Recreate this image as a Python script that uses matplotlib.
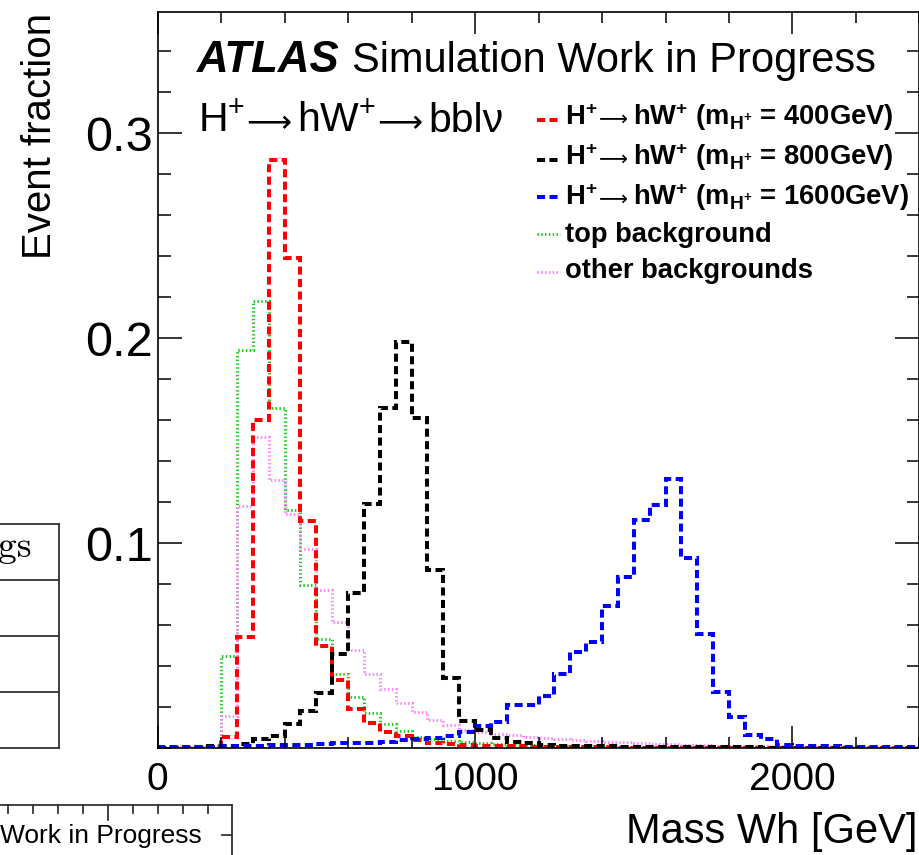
#
# Reconstructed invariant mass of the Wh system for charged Higgs signals and backgrounds
#

import numpy as np
import matplotlib
matplotlib.use('Agg')
import matplotlib.pyplot as plt
from matplotlib.lines import Line2D
from matplotlib.ticker import MultipleLocator

plt.rcParams['font.family'] = ['Liberation Sans', 'DejaVu Sans']
plt.rcParams['mathtext.fontset'] = 'custom'
plt.rcParams['mathtext.rm'] = 'Liberation Sans'
plt.rcParams['mathtext.it'] = 'Liberation Sans:italic'
plt.rcParams['mathtext.bf'] = 'Liberation Sans:bold'

# Data: normalised event fractions in 50 GeV bins, 0 - 2400 GeV
edges = np.arange(0, 2401, 50)

sig400 = [0, 0, 0, 0.0005, 0.0055, 0.054, 0.160, 0.287, 0.239, 0.111,
          0.050, 0.033, 0.019, 0.012, 0.008, 0.006, 0.004, 0.0025, 0.002, 0.0015,
          0.0012, 0.001, 0.0009, 0.0007, 0.0006, 0.0005, 0.0004, 0.0003, 0.0003, 0.0002,
          0.0002, 0.0001, 0.0001, 0.0001, 0, 0, 0, 0, 0, 0,
          0, 0, 0, 0, 0, 0, 0, 0]

sig800 = [0, 0.0002, 0.0005, 0.0008, 0.0012, 0.002, 0.0046, 0.006, 0.0115, 0.018,
          0.027, 0.046, 0.0756, 0.119, 0.166, 0.198, 0.161, 0.087, 0.034, 0.013,
          0.0086, 0.0047, 0.003, 0.0022, 0.0015, 0.0012, 0.001, 0.0009, 0.0008, 0.0007,
          0.0006, 0.0005, 0.0005, 0.0004, 0.0004, 0.0003, 0.0003, 0.0003, 0.0002, 0.0002,
          0.0002, 0.0002, 0.0001, 0.0001, 0.0001, 0.0001, 0.0001, 0.0001]

sig1600 = [0.0005, 0.0005, 0.0006, 0.0007, 0.0008, 0.001, 0.0012, 0.0013, 0.0015, 0.0017,
           0.002, 0.0022, 0.0024, 0.0026, 0.003, 0.0038, 0.0042, 0.0048, 0.0057, 0.008,
           0.0105, 0.0125, 0.021, 0.0212, 0.0255, 0.0363, 0.0468, 0.0517, 0.0691, 0.0834,
           0.1111, 0.1184, 0.1314, 0.0929, 0.0555, 0.0273, 0.0153, 0.0065, 0.0045, 0.0015,
           0.001, 0.0009, 0.0008, 0.0007, 0.0006, 0.0006, 0.0005, 0.0005]

top_bkg = [0.0002, 0.0002, 0.0003, 0.0008, 0.045, 0.194, 0.218, 0.166, 0.116, 0.0794,
           0.0534, 0.0363, 0.0249, 0.017, 0.0117, 0.0082, 0.0056, 0.0046, 0.0032, 0.0027,
           0.0022, 0.0018, 0.0015, 0.0013, 0.0011, 0.001, 0.0009, 0.0008, 0.0007, 0.0006,
           0.0005, 0.0005, 0.0004, 0.0004, 0.0003, 0.0003, 0.0003, 0.0002, 0.0002, 0.0002,
           0.0002, 0.0001, 0.0001, 0.0001, 0.0001, 0.0001, 0.0001, 0.0001]

other_bkg = [0.0003, 0.0003, 0.0005, 0.001, 0.0155, 0.118, 0.152, 0.131, 0.114, 0.097,
             0.077, 0.0615, 0.0477, 0.0363, 0.0288, 0.022, 0.0175, 0.0135, 0.011, 0.0086,
             0.0078, 0.007, 0.0062, 0.0055, 0.005, 0.0045, 0.004, 0.0035, 0.003, 0.0027,
             0.0024, 0.002, 0.0018, 0.0016, 0.0014, 0.0012, 0.0011, 0.001, 0.0009, 0.0008,
             0.0007, 0.0006, 0.0006, 0.0005, 0.0005, 0.0004, 0.0004, 0.0003]

labels = [r'H$^{\mathbf{+}}$→hW$^{\mathbf{+}}$ (m$_{\mathbf{H^{+}}}$ = 400GeV)',
          r'H$^{\mathbf{+}}$→hW$^{\mathbf{+}}$ (m$_{\mathbf{H^{+}}}$ = 800GeV)',
          r'H$^{\mathbf{+}}$→hW$^{\mathbf{+}}$ (m$_{\mathbf{H^{+}}}$ = 1600GeV)',
          'top background',
          'other backgrounds']
process = r'H$^{+}$→hW$^{+}$→bblν'

W, H = 920, 855


def fx(px):
    return px / W


def fy(py):
    return 1 - py / H


dash = (0, (2.0, 1.1))
dot = (0, (0.5, 0.8))
styles = [dict(color='red', lw=2.9, ls=dash),
          dict(color='black', lw=2.9, ls=dash),
          dict(color='blue', lw=2.9, ls=dash),
          dict(color='#1fc81f', lw=2.1, ls=dot),
          dict(color='#ff80ff', lw=2.1, ls=dot)]
series = [sig400, sig800, sig1600, top_bkg, other_bkg]

fig = plt.figure(figsize=(W / 100, H / 100), dpi=100)
renderer = fig.canvas.get_renderer()
ax = fig.add_axes([fx(157.5), fy(748), (919.5 - 157.5) / W, (748 - 12.3) / H])

# Backgrounds underneath, signals on top
for i in [3, 4, 0, 1, 2]:
    st = styles[i]
    ax.stairs(series[i], edges, baseline=0, color=st['color'],
              linewidth=st['lw'], linestyle=st['ls'])

ax.set_xlim(0, 2400)
ax.set_ylim(0, 0.359)

ax.set_xticks([0, 1000, 2000])
ax.set_xticklabels(['0', '1000', '2000'])
ax.xaxis.set_minor_locator(MultipleLocator(200))
ax.set_yticks([0.1, 0.2, 0.3])
ax.set_yticklabels(['0.1', '0.2', '0.3'])
ax.yaxis.set_minor_locator(MultipleLocator(0.02))

ax.tick_params(which='both', direction='in', top=True, right=True, width=1.1)
ax.tick_params(axis='x', which='major', length=16, labelsize=28, pad=10)
ax.tick_params(axis='x', which='minor', length=8)
ax.tick_params(axis='y', which='major', length=17, labelsize=35, pad=3)
ax.tick_params(axis='y', which='minor', length=9)
for sp in ax.spines.values():
    sp.set_linewidth(1.2)

# Axis titles aligned to the ends of the axes
fig.text(fx(40), fy(13), 'Event fraction', rotation=90, ha='center', va='top', fontsize=29)
fig.text(fx(918), fy(843), 'Mass Wh [GeV]', ha='right', va='baseline', fontsize=30)


def arrow_text(x, y, width):
    # long arrow scaled to a given pixel width
    t = fig.text(fx(x), fy(y), '⟶', family='DejaVu Sans', fontsize=20, va='baseline')
    w = t.get_window_extent(renderer).width
    t.set_fontsize(20 * width / w)
    return t


def chain(x, y, text, arrow_w, gaps, **kw):
    # draw text pieces one after another, with long arrows in between
    pieces = text.split('→')
    for k, piece in enumerate(pieces):
        t = fig.text(fx(x), fy(y), piece, va='baseline', **kw)
        x = t.get_window_extent(renderer).x1 + gaps[0]
        if k < len(pieces) - 1:
            a = arrow_text(x, y, arrow_w)
            x = a.get_window_extent(renderer).x1 + gaps[1]


# Labels
fig.text(fx(197), fy(71.7), 'ATLAS', fontsize=31.5, fontweight='bold', fontstyle='italic',
         va='baseline')
fig.text(fx(352), fy(71.7), 'Simulation Work in Progress', fontsize=30, va='baseline')
chain(198, 131.7, process, 45, (1, 6), fontsize=29.5)

# Legend
line_y = [120, 160, 197, 234, 272]
text_y = [125, 165, 205, 242, 278]
for st, lab, ly, ty in zip(styles, labels, line_y, text_y):
    fig.add_artist(Line2D([fx(537), fx(560)], [fy(ly), fy(ly)], color=st['color'],
                          linewidth=st['lw'], linestyle=st['ls']))
    chain(565, ty, lab, 29, (1, 6), fontsize=19.7, fontweight='bold')

# Neighbouring panels on the page
frame = dict(color='#333333', linewidth=1.3)
for y in [524, 580, 636, 692, 748]:
    fig.add_artist(Line2D([0, fx(59)], [fy(y), fy(y)], **frame))
fig.add_artist(Line2D([fx(59), fx(59)], [fy(524), fy(748)], **frame))
fig.text(fx(32), fy(557), 'gs', family='cmr10', fontsize=27, ha='right', va='baseline')

fig.add_artist(Line2D([0, fx(232)], [fy(805), fy(805)], **frame))
fig.add_artist(Line2D([fx(232), fx(232)], [fy(805), 0], **frame))
for k in range(9):
    x = 8.3 + 25 * k
    tl = 15 if k == 4 else 8
    fig.add_artist(Line2D([fx(x), fx(x)], [fy(805), fy(805 + tl)], **frame))
fig.add_artist(Line2D([fx(222), fx(232)], [fy(835), fy(835)], **frame))
fig.text(0, fy(843), 'Work in Progress', fontsize=19, va='baseline')

fig.savefig('out.png', dpi=100)
